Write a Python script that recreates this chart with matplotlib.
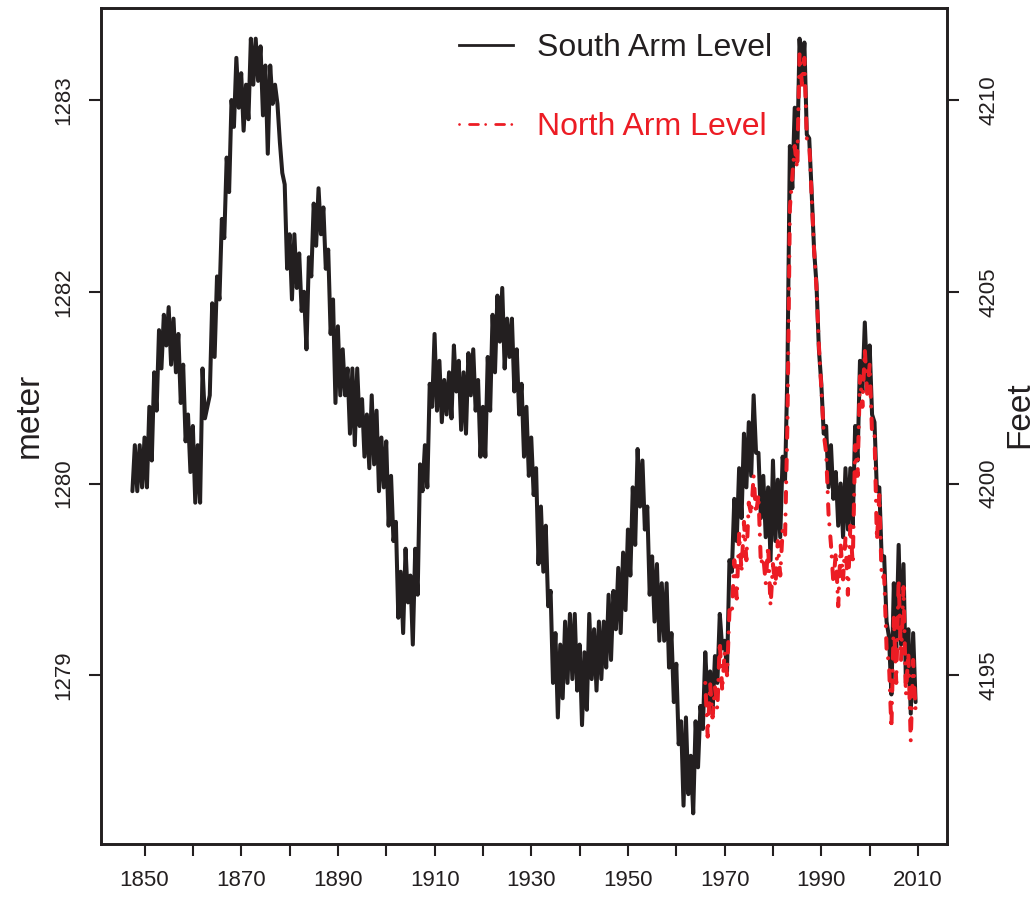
import numpy as np
import matplotlib.pyplot as plt
from matplotlib.lines import Line2D

plt.rcParams['font.family'] = ['Liberation Sans', 'DejaVu Sans']

# lake surface elevation in feet, one value every half year
south_start = 1847.5
south_level = [
    4199.8,
    # 1848-1867
    4201.0, 4199.8, 4201.0, 4199.9, 4201.2, 4199.9, 4202.0, 4200.6, 4202.9, 4201.9,
    4204.0, 4203.0, 4204.4, 4203.6, 4204.6, 4203.1, 4204.3, 4202.9, 4203.9, 4202.1,
    4203.1, 4201.1, 4201.8, 4200.3, 4201.5, 4199.5, 4201.0, 4199.5, 4203.0, 4201.7,
    4202.0, 4202.3, 4204.7, 4203.3, 4205.4, 4204.8, 4206.9, 4206.4, 4208.5, 4207.6,
    # 1868-1887
    4210.0, 4209.3, 4211.1, 4209.8, 4210.7, 4209.2, 4210.4, 4209.5, 4211.6, 4210.4,
    4211.6, 4210.5, 4211.4, 4209.6, 4210.9, 4208.6, 4210.9, 4209.9, 4210.4, 4209.9,
    4208.9, 4208.1, 4207.8, 4205.6, 4206.5, 4204.8, 4206.5, 4205.1, 4206.0, 4204.5,
    4205.0, 4203.5, 4205.9, 4205.4, 4207.3, 4206.2, 4207.7, 4206.5, 4207.2, 4205.6,
    # 1888-1907
    4206.1, 4203.9, 4204.8, 4202.1, 4204.1, 4202.3, 4203.5, 4202.3, 4203.0, 4201.3,
    4203.0, 4201.0, 4203.0, 4201.5, 4202.2, 4200.7, 4201.8, 4200.4, 4202.3, 4200.5,
    4201.9, 4199.8, 4201.2, 4199.9, 4201.1, 4198.9, 4200.2, 4198.5, 4199.0, 4196.5,
    4197.7, 4196.1, 4198.3, 4196.9, 4197.6, 4195.8, 4198.3, 4197.1, 4200.5, 4199.8,
    # 1908-1927
    4201.0, 4199.9, 4202.6, 4202.0, 4203.9, 4201.9, 4203.2, 4201.6, 4202.7, 4201.8,
    4202.9, 4201.7, 4203.6, 4202.4, 4203.2, 4201.4, 4202.9, 4201.3, 4203.4, 4202.3,
    4203.5, 4201.9, 4202.7, 4200.7, 4202.0, 4200.7, 4203.3, 4201.9, 4204.4, 4202.9,
    4204.9, 4203.7, 4205.1, 4203.0, 4204.3, 4203.3, 4204.3, 4202.4, 4203.5, 4201.8,
    # 1928-1947
    4202.6, 4200.7, 4202.0, 4200.2, 4201.2, 4199.7, 4200.4, 4197.9, 4199.4, 4197.7,
    4198.9, 4196.8, 4197.2, 4194.8, 4196.1, 4193.9, 4195.8, 4194.4, 4196.4, 4194.8,
    4196.6, 4194.9, 4196.6, 4194.6, 4195.8, 4193.7, 4195.6, 4194.1, 4196.6, 4194.9,
    4196.2, 4194.6, 4196.4, 4194.9, 4196.4, 4195.2, 4197.1, 4195.4, 4197.2, 4196.2,
    # 1948-1967
    4197.8, 4196.1, 4198.2, 4196.7, 4198.8, 4197.6, 4199.9, 4198.4, 4200.9, 4199.4,
    4200.6, 4198.8, 4199.4, 4197.1, 4198.1, 4196.4, 4197.9, 4195.9, 4197.4, 4195.9,
    4197.4, 4195.2, 4196.1, 4194.3, 4195.3, 4193.2, 4193.8, 4191.6, 4193.9, 4191.9,
    4192.9, 4191.4, 4193.8, 4192.6, 4194.2, 4193.6, 4195.6, 4194.3, 4195.1, 4194.0,
    # 1968-1987
    4195.5, 4194.8, 4196.6, 4195.7, 4195.9, 4195.1, 4198.0, 4197.7, 4199.6, 4198.5,
    4200.4, 4199.1, 4201.3, 4199.9, 4201.6, 4200.2, 4202.3, 4200.8, 4200.8, 4199.1,
    4200.2, 4198.6, 4199.9, 4198.0, 4200.6, 4198.5, 4200.1, 4198.6, 4200.7, 4200.1,
    4203.0, 4208.8, 4207.7, 4209.8, 4208.4, 4211.6, 4210.5, 4211.5, 4209.1, 4209.0,
    # 1988-2007
    4207.6, 4206.1, 4205.2, 4203.5, 4202.6, 4201.3, 4201.5, 4199.9, 4201.0, 4199.6,
    4200.3, 4198.9, 4200.0, 4198.6, 4200.4, 4198.8, 4200.4, 4198.9, 4201.5, 4200.6,
    4203.2, 4202.4, 4204.2, 4202.6, 4203.6, 4201.8, 4201.6, 4199.8, 4199.9, 4198.0,
    4198.1, 4196.4, 4196.0, 4194.5, 4197.4, 4195.7, 4198.4, 4195.8, 4197.9, 4194.8,
    # 2008-2009
    4196.2, 4194.0, 4196.1, 4194.3,
]

north_start = 1966.0
north_level = [
    # 1966-1985
    4194.8, 4193.4, 4194.8, 4193.9, 4194.7, 4194.1, 4195.9, 4194.6, 4195.6, 4195.0,
    4196.7, 4196.6, 4198.0, 4197.0, 4198.7, 4197.7, 4199.0, 4198.0, 4199.5, 4199.2,
    4200.2, 4199.2, 4199.7, 4197.9, 4198.1, 4197.4, 4198.4, 4196.8, 4197.9, 4197.3,
    4198.5, 4197.6, 4198.8, 4198.6, 4201.6, 4207.2, 4208.0, 4208.8, 4208.2, 4211.2,
    # 1986-2005
    4210.4, 4211.1, 4209.0, 4208.9, 4207.5, 4206.1, 4205.1, 4203.6, 4202.5, 4201.3,
    4200.8, 4199.2, 4198.4, 4197.4, 4198.2, 4196.8, 4198.4, 4197.5, 4198.6, 4197.1,
    4198.9, 4197.9, 4201.0, 4200.2, 4202.8, 4202.0, 4203.5, 4202.3, 4203.1, 4201.3,
    4201.3, 4198.5, 4199.7, 4197.5, 4197.6, 4195.7, 4195.3, 4193.6, 4196.5, 4194.8,
    # 2006-2009
    4197.5, 4195.4, 4197.3, 4194.5, 4195.6, 4193.3, 4195.4, 4194.1,
]

feet_ticks = [4195, 4200, 4205, 4210]
year_ticks = list(range(1850, 2011, 10))
FT_TO_M = 0.3048

south_col = '#231f20'
north_col = '#ec1c24'

south_years = south_start + 0.5 * np.arange(len(south_level))
north_years = north_start + 0.5 * np.arange(len(north_level))

fig = plt.figure(figsize=(10.36, 8.98), dpi=100)
ax = fig.add_axes([101 / 1036, 1 - 844 / 898, 846 / 1036, 836 / 898])

lw = 2.9
ax.plot(south_years, south_level, color=south_col, lw=lw,
        solid_joinstyle='round', solid_capstyle='round', zorder=2)
north_line, = ax.plot(north_years, north_level, color=north_col, lw=lw,
                      dash_capstyle='round', zorder=3)
north_line.set_dashes((0.01, 3.0, 2.6, 2.4))

ax.set_xlim(1841, 2016)
ax.set_ylim(4190.6, 4212.4)

# left axis shows the same tick positions labelled in metres
ax.set_xticks(year_ticks)
ax.set_xticklabels([str(y) if y % 20 == 10 else '' for y in year_ticks])
ax.set_yticks(feet_ticks)
ax.set_yticklabels([str(int(round(f * FT_TO_M))) for f in feet_ticks])

ax2 = ax.twinx()
ax2.set_ylim(ax.get_ylim())
ax2.set_yticks(feet_ticks)
ax2.set_yticklabels([str(f) for f in feet_ticks])

for a in (ax, ax2):
    for s in a.spines.values():
        s.set_linewidth(1.9)
        s.set_color(south_col)
    a.tick_params(length=8.5, width=1.5, color=south_col, labelcolor=south_col,
                  labelsize=16)

ax.tick_params(axis='x', pad=10)
ax.tick_params(axis='y', labelrotation=90, pad=11)
ax2.tick_params(axis='y', labelrotation=90, pad=14)
for t in ax.get_yticklabels():
    t.set_va('center')
for t in ax2.get_yticklabels():
    t.set_va('center')

fig.text(29 / 1036, 1 - 415 / 898, 'meter', rotation=90, ha='center', va='center',
         fontsize=24, color=south_col)
fig.text(1020 / 1036, 1 - 415 / 898, 'Feet', rotation=90, ha='center', va='center',
         fontsize=24, color=south_col)

handles = [
    Line2D([], [], color=south_col, lw=2.0),
    Line2D([], [], color=north_col, lw=2.0, dashes=(0.01, 3.6, 3.2, 2.6),
           dash_capstyle='round'),
]
leg = ax.legend(handles, ['South Arm Level', 'North Arm Level'],
                loc='upper left', bbox_to_anchor=(459 / 1036, 1 - 33 / 898),
                bbox_transform=fig.transFigure, frameon=False, fontsize=23,
                handlelength=1.7, handletextpad=0.75, labelspacing=1.53,
                borderpad=0, borderaxespad=0)
leg.get_texts()[0].set_color(south_col)
leg.get_texts()[1].set_color(north_col)

fig.savefig('out.png', dpi=100)
